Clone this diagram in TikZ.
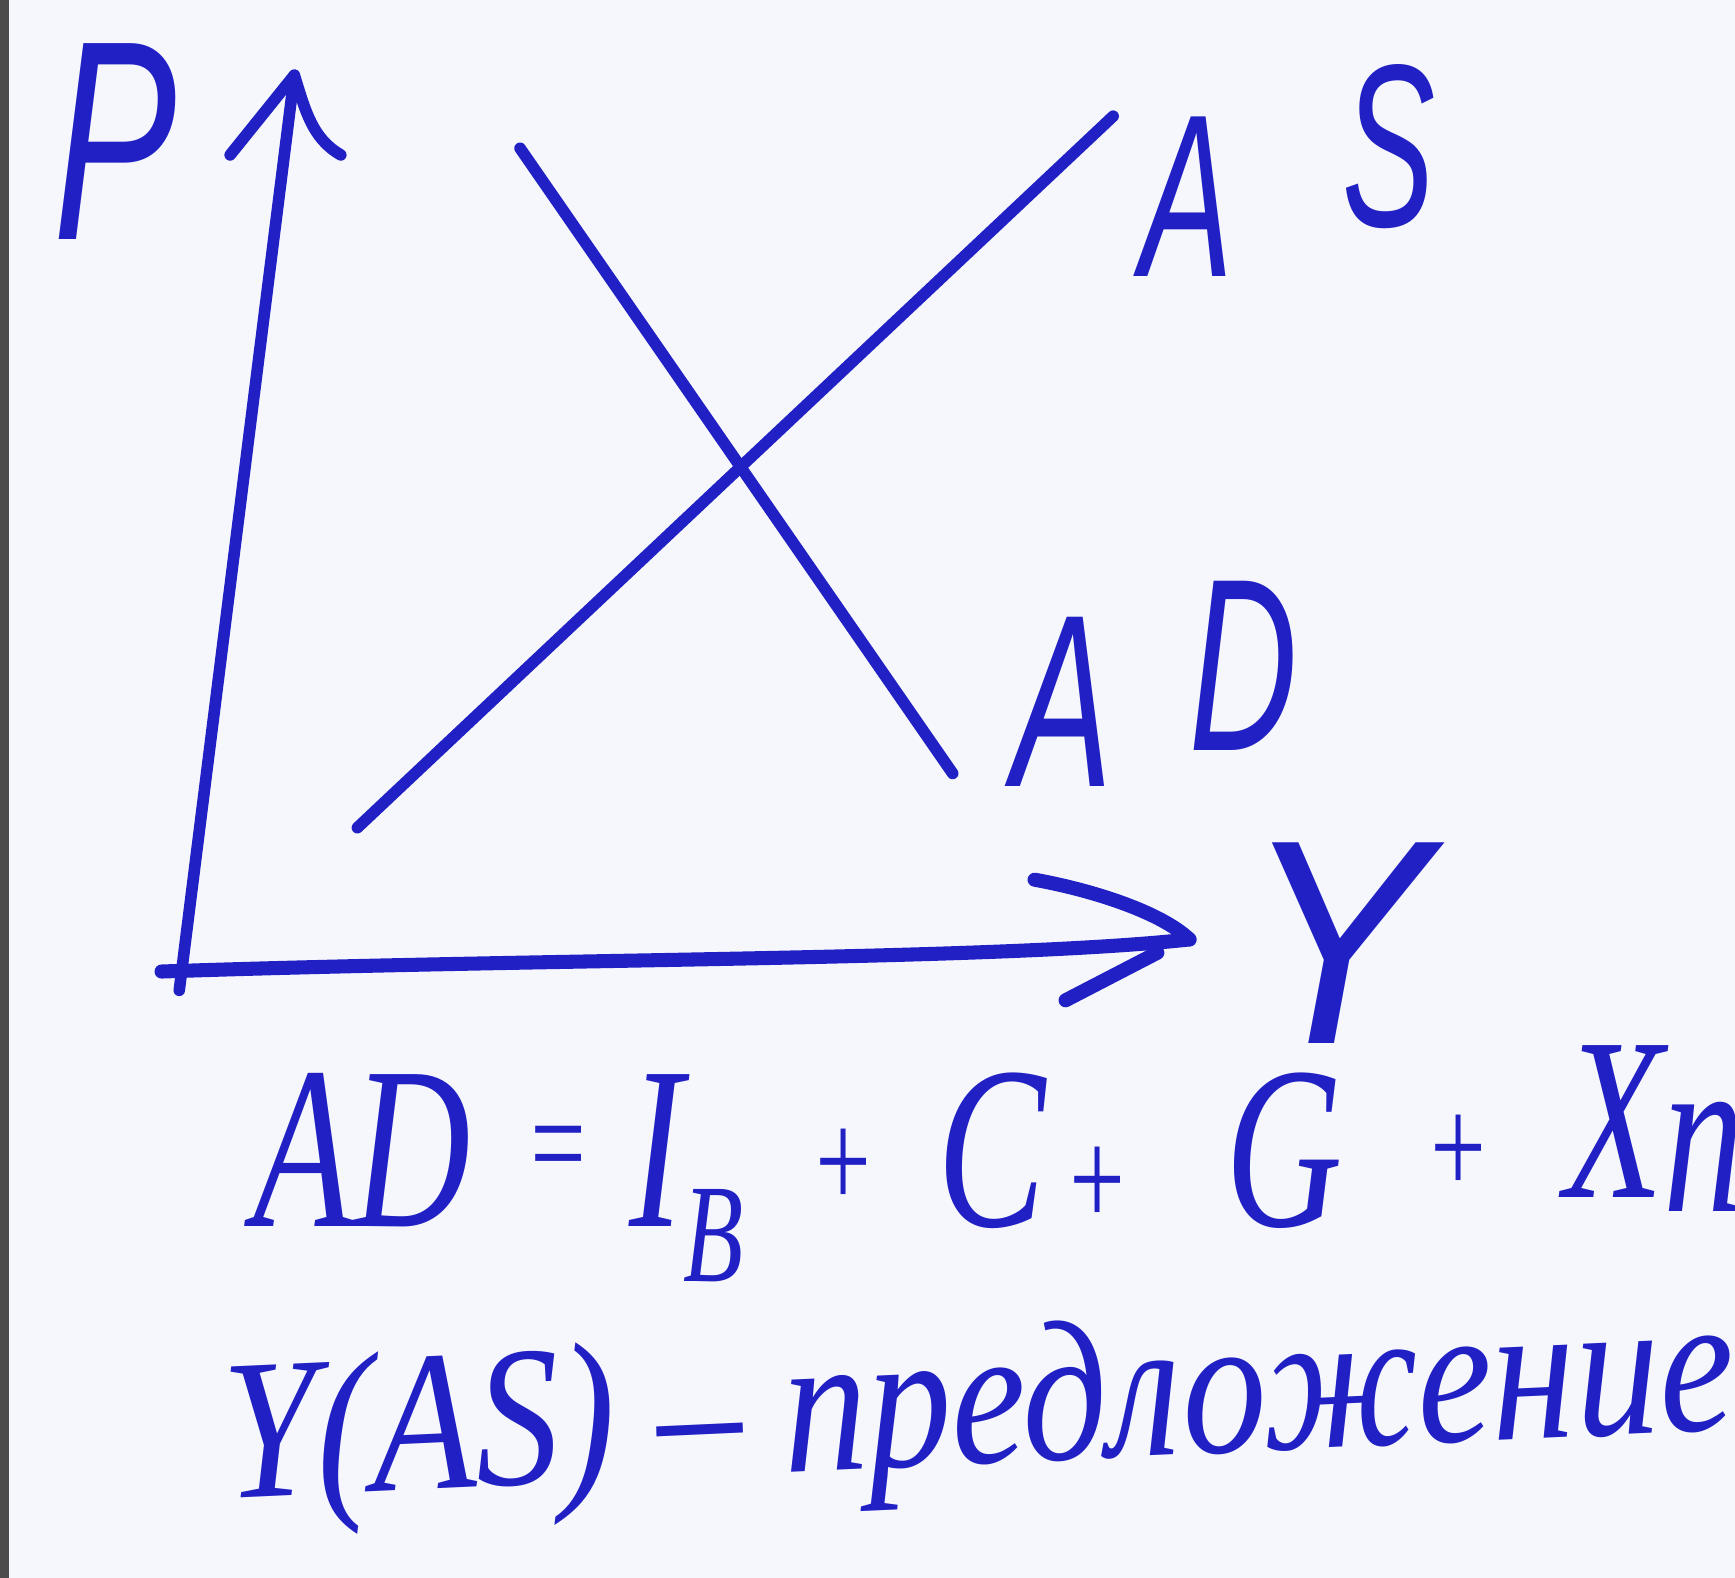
\documentclass[tikz,border=0pt]{standalone}
\usepackage{fontspec}
\setmainfont{Liberation Serif}
\newfontfamily\handsans{Liberation Sans}
\usetikzlibrary{calc}
\definecolor{ink}{RGB}{32,32,196}
\definecolor{paper}{RGB}{246,247,252}
\tikzset{pen/.style={ink,line width=3.3pt,line cap=round,line join=round},
         mark/.style={text=ink,inner sep=0pt,font=\handsans\itshape\fontsize{#1}{#1}\selectfont},
         hand/.style={text=ink,inner sep=0pt,font=\itshape\fontsize{#1}{#1}\selectfont}}
\newcommand{\sublow}[1]{\raisebox{-15.7pt}{\fontsize{40}{40}\selectfont #1}}
\newcommand{\smop}[2]{\raisebox{#1}{\fontsize{40}{40}\selectfont #2}}

\begin{document}
\begin{tikzpicture}[x=0.011065cm,y=-0.011065cm]
  \fill[paper] (0,0) rectangle (1568,1426);
  \useasboundingbox (0,0) rectangle (1568,1426);
  \clip (0,0) rectangle (1568,1426);
  \fill[black!70] (0,0) rectangle (8,1426);
  % axes
  \coordinate (O) at (146,878);
  \coordinate (Ptip) at (266,68);
  \coordinate (Ytip) at (1075,849);
  \draw[pen] (162,895) -- (Ptip);
  \draw[pen] (208,140) -- (Ptip) .. controls (276,100) and (282,125) .. (308,140);
  \draw[pen,line width=4pt] (O) .. controls (500,866) and (900,868) .. (Ytip);
  \draw[pen,line width=4pt] (935,795) .. controls (990,805) and (1050,825) .. (Ytip);
  \draw[pen,line width=4pt] (1046,861) -- (963,904);
  % curves
  \coordinate (as0) at (323,748);
  \coordinate (as1) at (1006,105);
  \coordinate (ad0) at (470,134);
  \coordinate (ad1) at (861,699);
  \draw[pen] (as0) -- (as1);
  \draw[pen] (ad0) -- (ad1);
  % labels
  \node[mark=81pt,xscale=.65] (P) at (104,128) {P};
  \node[mark=83pt,xscale=.95] (Y) at (1207,852) {Y};
  \node[mark=66pt,xscale=.6,anchor=base west] (AS) at (1030,250)
    {A\hspace{1.83cm}\raisebox{0.5cm}{S}};
  \node[mark=70pt,xscale=.61,anchor=base west] (AD) at (915,711)
    {A\hspace{1.25cm}\raisebox{0.36cm}{D}};
  % text below
  \node[hand=66pt,xscale=.7,anchor=base west] (demand) at (229,1108)
    {AD\hspace{0.77cm}\smop{10pt}{=}\hspace{0.55cm}I\sublow{B}\hspace{0.94cm}\smop{5pt}{+}\hspace{0.88cm}C\hspace{0.25cm}\smop{0pt}{+}\hspace{1.37cm}G\hspace{1.17cm}\smop{9pt}{+}\hspace{1.05cm}\raisebox{8pt}{X}\raisebox{4pt}{n}};
  \node[hand=57pt,xscale=.84,rotate=2.2,anchor=base west] (supply) at (203,1354)
    {Y(AS) -- предложение};
\end{tikzpicture}
\end{document}
